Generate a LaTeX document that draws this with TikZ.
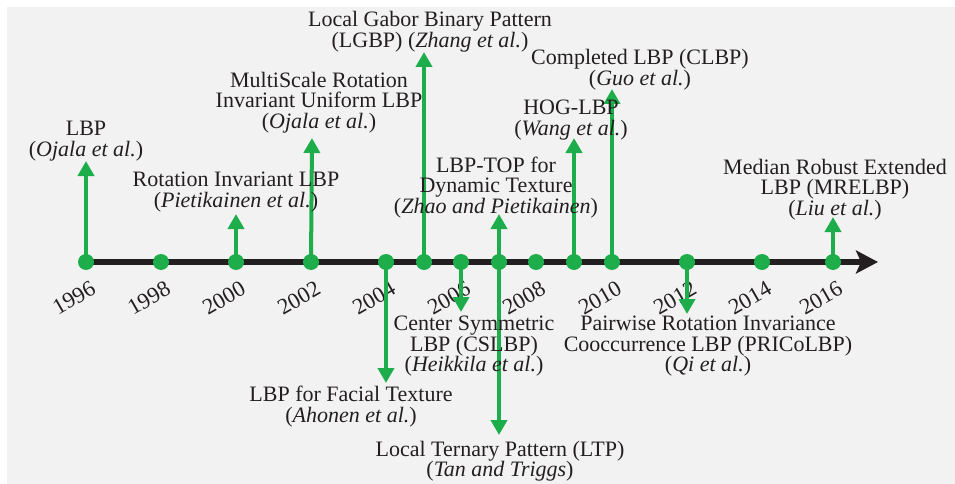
\documentclass[tikz,border=0pt]{standalone}
\usepackage{fontspec}
\setmainfont{Liberation Serif}
\usetikzlibrary{arrows.meta}
\definecolor{bg}{RGB}{242,242,242}
\definecolor{grn}{RGB}{29,174,75}
\definecolor{ink}{RGB}{35,31,32}
\begin{document}
\lineskiplimit=-50pt
\lineskip=0pt
\begin{tikzpicture}[x=1pt,y=-1pt,
  lab/.style={align=center, inner sep=0pt, text=ink,
    font=\fontsize{22}{20.5}\selectfont},
  yr/.style={rotate=30, inner sep=0pt, text=ink, font=\fontsize{22.5}{22}\selectfont},
  dot/.style={circle, fill=grn, minimum size=16pt, inner sep=0pt},
  garrow/.style={draw=grn, line width=4pt, -{Triangle[length=15pt,width=16pt]}},
  axisline/.style={draw=ink, line width=6pt, -{Stealth[length=22pt,width=23pt,inset=5pt]}}]
\useasboundingbox (0,0) rectangle (955,484);
\fill[white] (0,0) rectangle (955,484);
\fill[bg] (7,7) rectangle (955,484);
% axis
\coordinate (axstart) at (86,262);
\coordinate (axend) at (878,262);
\draw[axisline] (axstart) -- (axend);
% dots
\foreach \yy/\xx in {1996/86,1998/161,2000/236,2002/311,2004/386,2005/424,2006/461,2007/499,2008/536,2009/574,2010/612,2012/687,2014/762,2016/833}
  \node[dot] (d\yy) at (\xx,262) {};
% year labels
\foreach \yy/\xx in {1996/86,1998/161,2000/236,2002/311,2004/386,2006/461,2008/536,2010/612,2012/687,2014/762,2016/833}
  \node[yr] (y\yy) at ({\xx-12},298) {\yy};
% arrow tips
\coordinate (t1996) at (86,161);
\coordinate (t2000) at (236,214);
\coordinate (t2002) at (312,138);
\coordinate (t2005) at (424,52);
\coordinate (t2007u) at (499,214);
\coordinate (t2009) at (574,138);
\coordinate (t2010) at (612,89);
\coordinate (t2016) at (833,217);
\coordinate (t2004) at (386,383);
\coordinate (t2006) at (461,312);
\coordinate (t2007d) at (499,435);
\coordinate (t2012) at (687,314);
\foreach \s/\t in {d1996/t1996,d2000/t2000,d2002/t2002,d2005/t2005,d2007/t2007u,d2009/t2009,d2010/t2010,d2016/t2016,d2004/t2004,d2006/t2006,d2007/t2007d,d2012/t2012}
  \draw[garrow] (\s.center) -- (\t);
% labels above
\node[lab,anchor=south] (lbp) at (86,161) {LBP\\(\textit{Ojala et al.})};
\node[lab,anchor=south] (rilbp) at (236,212) {Rotation Invariant LBP\\(\textit{Pietikainen et al.})};
\node[lab,anchor=south] (msri) at (319,133) {MultiScale Rotation\\Invariant Uniform LBP\\(\textit{Ojala et al.})};
\node[lab,anchor=south] (lgbp) at (430,52) {Local Gabor Binary Pattern\\(LGBP) (\textit{Zhang et al.})};
\node[lab,anchor=south] (lbptop) at (496,218) {LBP-TOP for\\Dynamic Texture\\(\textit{Zhao and Pietikainen})};
\node[lab,anchor=south] (hog) at (571,140) {HOG-LBP\\(\textit{Wang et al.})};
\node[lab,anchor=south] (clbp) at (640,90) {Completed LBP (CLBP)\\(\textit{Guo et al.})};
\node[lab,anchor=south] (mrelbp) at (835,220) {Median Robust Extended\\LBP (MRELBP)\\(\textit{Liu et al.})};
% labels below
\node[lab,anchor=north] (facial) at (351,386) {LBP for Facial Texture\\(\textit{Ahonen et al.})};
\node[lab,anchor=north] (cslbp) at (474,316) {Center Symmetric\\LBP (CSLBP)\\(\textit{Heikkila et al.})};
\node[lab,anchor=north] (ltp) at (500,441) {Local Ternary Pattern (LTP)\\(\textit{Tan and Triggs})};
\node[lab,anchor=north] (pricolbp) at (708,316) {Pairwise Rotation Invariance\\Cooccurrence LBP (PRICoLBP)\\(\textit{Qi et al.})};
\end{tikzpicture}
\end{document}
